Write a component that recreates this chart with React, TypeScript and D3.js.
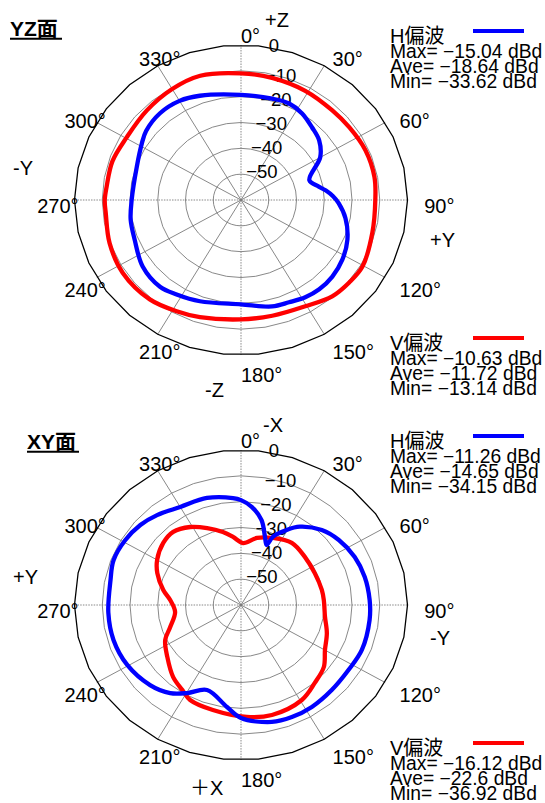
import React from "react";
import * as d3 from "d3";

// ---------- data ----------
const ANGLE_TICKS = [0, 30, 60, 90, 120, 150, 180, 210, 240, 270, 300, 330];
const RING_DB = [0, -10, -20, -30, -40, -50];
const RING_LABELS = ["0", "−10", "−20", "−30", "−40", "−50"];

// YZ plane, H polarization (blue)
const YZ_H_ANGLE = [0, 16, 24.9, 33.3, 42.4, 50.7, 59.9, 72.7, 79.5, 83, 87.5, 92, 100.6, 111.8, 122.3, 132, 140.8, 148.4, 156.4, 164.8, 180, 200.7, 212.4, 221, 234, 248, 259, 270, 289, 301.5, 308, 319, 330, 339.8];
const YZ_H_DB = [-19.3, -19.2, -18.8, -19.9, -22.0, -23.6, -27.0, -34.2, -31.5, -29.3, -26.8, -24.8, -21.7, -18.7, -16.8, -15.7, -15.4, -15.8, -16.8, -17.3, -19.6, -18.1, -16.7, -15.5, -16.2, -18.7, -19.5, -20.6, -20.3, -18.1, -16.6, -15.5, -15.7, -17.0];
// YZ plane, V polarization (red)
const YZ_V_ANGLE = [0, 13.3, 28.7, 43.5, 54.3, 66.8, 79.6, 90, 105, 120.5, 129.3, 138.6, 150.6, 165.9, 180, 198.1, 208.3, 220.5, 236.6, 250.7, 264, 270, 276, 288, 300.5, 315.5, 330, 343];
const YZ_V_DB = [-11.0, -11.4, -11.8, -12.2, -11.9, -11.2, -11.1, -11.6, -11.0, -9.2, -9.6, -10.3, -12.8, -13.8, -13.8, -12.3, -11.1, -9.4, -8.9, -9.8, -11.0, -10.9, -11.3, -11.3, -12.2, -11.5, -10.4, -9.7];
// XY plane, H polarization (blue)
const XY_H_ANGLE = [0, 5.8, 12.7, 18.1, 21.7, 23.6, 29.5, 35, 45.1, 54.5, 65.6, 76.3, 87.6, 97.2, 111.8, 122.9, 135.2, 147.1, 157.1, 166.2, 180, 187.3, 200.4, 209.6, 216.8, 226.6, 240.5, 253.6, 266.3, 281.6, 290.7, 301, 310.5, 319, 330, 343.5, 356];
const XY_H_DB = [-19.4, -21.8, -26.3, -32.2, -35.0, -31.1, -26.6, -23.0, -18.9, -16.7, -15.0, -14.1, -13.6, -13.3, -13.1, -13.8, -13.6, -13.0, -12.9, -13.4, -16.3, -20.2, -24.9, -20.8, -17.4, -14.9, -12.9, -12.1, -12.1, -12.0, -10.9, -11.3, -12.3, -13.9, -16.2, -16.8, -18.5];
// XY plane, V polarization (red)
const XY_V_ANGLE = [1.7, 12.5, 24, 37.3, 51, 65.1, 78.7, 86.3, 98.5, 109.4, 119.9, 128.8, 138.6, 149.2, 165.3, 177.2, 194, 206.5, 212.8, 221.2, 232.9, 243.6, 251.5, 263.5, 274.3, 281.7, 292.3, 300, 310.6, 319.2, 328.8, 337.7, 347, 353.8];
const XY_V_DB = [-36.0, -33.4, -31.6, -29.8, -30.4, -30.7, -30.3, -30.1, -29.4, -27.2, -25.1, -21.7, -19.8, -17.2, -16.0, -16.6, -18.1, -18.9, -20.9, -22.9, -26.7, -29.5, -33.1, -36.1, -34.4, -31.4, -27.4, -25.1, -23.1, -22.6, -24.7, -27.8, -31.0, -33.5];

const YZ_H_STATS = ["Max= −15.04 dBd", "Ave= −18.64 dBd", "Min= −33.62 dBd"];
const YZ_V_STATS = ["Max= −10.63 dBd", "Ave= −11.72 dBd", "Min= −13.14 dBd"];
const XY_H_STATS = ["Max= −11.26 dBd", "Ave= −14.65 dBd", "Min= −34.15 dBd"];
const XY_V_STATS = ["Max= −16.12 dBd", "Ave= −22.6 dBd", "Min= −36.92 dBd"];

// ---------- layout ----------
const W = 545;
const H = 803;
const CX = 241;
const RX = 166.5;
const RY = 155;
const FONT = "'Liberation Sans', Arial, 'Noto Sans CJK JP', sans-serif";
const BLUE = "#0000ff";
const RED = "#ff0000";
const GRID = "#7a7a7a";

const rScale = d3.scaleLinear().domain([-60, 0]).range([0, 1]).clamp(true);

function pt(cy: number, deg: number, rn: number): [number, number] {
  const a = (deg * Math.PI) / 180;
  return [CX + rn * RX * Math.sin(a), cy - rn * RY * Math.cos(a)];
}

const closedLinear = d3.line().curve(d3.curveLinearClosed);
const closedSmooth = d3.line().curve(d3.curveCatmullRomClosed.alpha(0.5));

function ringPath(cy: number, rn: number, step: number, offset: number) {
  const pts = d3.range(offset, 360 + offset - 0.001, step).map((a) => pt(cy, a, rn));
  return closedLinear(pts as any) || "";
}

function seriesPath(cy: number, angles: number[], dbs: number[]) {
  const pts = angles.map((a, i) => pt(cy, a, rScale(dbs[i])));
  return closedSmooth(pts as any) || "";
}

type AxisLabel = { text: string; x: number; y: number };

type PanelProps = {
  cy: number;
  title: string;
  titleX: number;
  titleY: number;
  axisLabels: AxisLabel[];
  hAngles: number[];
  hDb: number[];
  vAngles: number[];
  vDb: number[];
  hStats: string[];
  vStats: string[];
};

function Panel(p: PanelProps) {
  const { cy } = p;
  const angleLabelWidth = (s: string) => (s.length * 0.556 + 0.4) * 20;
  return (
    <g>
      {/* grid rings */}
      {RING_DB.filter((d) => d < 0).map((d) => (
        <path key={"ring" + d} d={ringPath(cy, rScale(d), 10, 0)} fill="none" stroke={GRID} strokeWidth={0.9} />
      ))}
      {/* spokes */}
      {ANGLE_TICKS.map((a) => {
        const [x2, y2] = pt(cy, a, 1);
        const axis = a % 90 === 0;
        return (
          <line
            key={"sp" + a}
            x1={CX}
            y1={cy}
            x2={x2}
            y2={y2}
            stroke={GRID}
            strokeWidth={0.9}
            strokeDasharray={axis ? "1.5,1.2" : undefined}
          />
        );
      })}
      {/* outer ring */}
      <path d={ringPath(cy, 1, 12, 6)} fill="none" stroke="#000" strokeWidth={1.3} />
      {/* ring labels */}
      {RING_DB.map((d, i) => {
        const rv = rScale(d) * RY;
        const x = d === 0 ? CX + 38 : CX + 32 + 0.18 * rv;
        const y = d === 0 ? cy - 148 : cy + 2 - 0.93 * rv;
        return (
          <text key={"rl" + d} x={x} y={y} textAnchor="end" fontSize={18.5} fontFamily={FONT} fill="#000">
            {RING_LABELS[i]}
          </text>
        );
      })}
      {/* angle labels */}
      {ANGLE_TICKS.map((a) => {
        const rad = (a * Math.PI) / 180;
        const s = String(a);
        const w = angleLabelWidth(s);
        const px = CX + 1.1 * RX * Math.sin(rad);
        const x = Math.sin(rad) < -0.01 ? px + 0.5 * w * Math.sin(rad) : px;
        const y = cy - 1.0926 * RY * Math.cos(rad) + 12.6;
        return (
          <text key={"al" + a} x={x} y={y} fontSize={20} fontFamily={FONT} fill="#000">
            {s + "°"}
          </text>
        );
      })}
      {/* series */}
      <path d={seriesPath(cy, p.vAngles, p.vDb)} fill="none" stroke={RED} strokeWidth={4.3} strokeLinejoin="round" />
      <path d={seriesPath(cy, p.hAngles, p.hDb)} fill="none" stroke={BLUE} strokeWidth={4.3} strokeLinejoin="round" />
      {/* title */}
      <text x={p.titleX} y={p.titleY} fontSize={21} fontWeight="bold" fontFamily={FONT} fill="#000">
        {p.title}
      </text>
      <line x1={p.titleX} x2={p.titleX + 52} y1={p.titleY + 2.8} y2={p.titleY + 2.8} stroke="#000" strokeWidth={2} />
      {/* axis labels */}
      {p.axisLabels.map((l) => (
        <text key={l.text} x={l.x} y={l.y} fontSize={20} fontFamily={FONT} fill="#000">
          {l.text}
        </text>
      ))}
      {/* legends */}
      <g>
        <text x={390} y={cy - 156.7} fontSize={20} fontFamily={FONT} fill="#000">H偏波</text>
        <line x1={473} x2={524} y1={cy - 169} y2={cy - 169} stroke={BLUE} strokeWidth={4} />
        {p.hStats.map((s, i) => (
          <text key={"hs" + i} x={390} y={cy - 141.7 + i * 15} fontSize={19.3} fontFamily={FONT} fill="#000">
            {s}
          </text>
        ))}
      </g>
      <g>
        <text x={390} y={cy + 150} fontSize={20} fontFamily={FONT} fill="#000">V偏波</text>
        <line x1={473} x2={524} y1={cy + 138} y2={cy + 138} stroke={RED} strokeWidth={4} />
        {p.vStats.map((s, i) => (
          <text key={"vs" + i} x={390} y={cy + 165 + i * 15} fontSize={19.3} fontFamily={FONT} fill="#000">
            {s}
          </text>
        ))}
      </g>
    </g>
  );
}

export default function App() {
  return (
    <svg
      width={W}
      height={H}
      viewBox={`0 0 ${W} ${H}`}
      style={{ position: "absolute", left: 0, top: 0, background: "#fff" }}
    >
      <rect x={0} y={0} width={W} height={H} fill="#fff" />
      <Panel
        cy={200}
        title="YZ面"
        titleX={10}
        titleY={36}
        axisLabels={[
          { text: "+Z", x: 265, y: 26.7 },
          { text: "-Z", x: 205, y: 396.7 },
          { text: "-Y", x: 13, y: 175 },
          { text: "+Y", x: 430, y: 246.7 },
        ]}
        hAngles={YZ_H_ANGLE}
        hDb={YZ_H_DB}
        vAngles={YZ_V_ANGLE}
        vDb={YZ_V_DB}
        hStats={YZ_H_STATS}
        vStats={YZ_V_STATS}
      />
      <Panel
        cy={605}
        title="XY面"
        titleX={27}
        titleY={449}
        axisLabels={[
          { text: "-X", x: 263, y: 431.7 },
          { text: "＋X", x: 190, y: 795 },
          { text: "+Y", x: 13, y: 584 },
          { text: "-Y", x: 430, y: 645 },
        ]}
        hAngles={XY_H_ANGLE}
        hDb={XY_H_DB}
        vAngles={XY_V_ANGLE}
        vDb={XY_V_DB}
        hStats={XY_H_STATS}
        vStats={XY_V_STATS}
      />
    </svg>
  );
}
